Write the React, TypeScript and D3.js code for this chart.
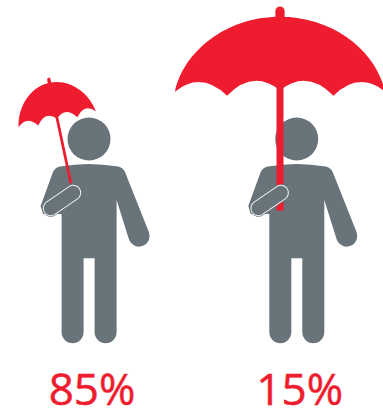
import React from "react";
import * as d3 from "d3";

// Share of people in each group and how each group's umbrella is drawn.
const labels = ["85%", "15%"];
const groups = ["small", "large"];
const umbrellaSpans = [79, 210];
const umbrellaDepths = [37.5, 75];
const umbrellaTilts = [-12, 0];
const umbrellaTops = [[-39.5, 82.7], [-16.7, 16.7]];
const handleLengths = [102.9, 194];
const handleWidths = [2.7, 7];

const RED = "#ee1c2e";
const GREY = "#68737a";
const WIDTH = 383;
const HEIGHT = 411;

const personX = d3.scaleBand<string>().domain(groups).range([89, 89 + 415.4]).paddingInner(0).paddingOuter(0).align(0);

// Canopy outline in a unit system where the full span is 210 wide and the crown sits at 0,0.
function canopyPath(): string {
  const p = d3.path();
  p.moveTo(-105, 75);
  p.bezierCurveTo(-97, 36, -55, 0, 0, 0);
  p.bezierCurveTo(55, 0, 97, 36, 105, 75);
  p.quadraticCurveTo(79, 54, 53.5, 79);
  p.quadraticCurveTo(27, 52, 0, 73.5);
  p.quadraticCurveTo(-27, 52, -53, 79);
  p.quadraticCurveTo(-79, 54, -105, 75);
  p.closePath();
  p.moveTo(-4.6, 2);
  p.lineTo(-4.6, -5.7);
  p.arc(0, -5.7, 4.6, Math.PI, 0);
  p.lineTo(4.6, 2);
  p.closePath();
  return p.toString();
}

// Torso, legs and the free arm, relative to the head's centre line.
function bodyPath(): string {
  const p = d3.path();
  p.moveTo(0, 164);
  p.quadraticCurveTo(14, 164, 29, 166.5);
  p.quadraticCurveTo(34, 167.5, 36, 172);
  p.lineTo(59.8, 232);
  p.arc(50, 236, 10.6, -0.38, 2.76, false);
  p.lineTo(27.6, 200);
  p.lineTo(27.6, 332.3);
  p.arc(16.6, 332.3, 11, 0, Math.PI);
  p.lineTo(5.6, 258.3);
  p.lineTo(-5.4, 258.3);
  p.lineTo(-5.4, 332.3);
  p.arc(-16.4, 332.3, 11, 0, Math.PI);
  p.lineTo(-27.4, 214);
  p.lineTo(-46, 214);
  p.lineTo(-48.4, 206);
  p.lineTo(-36, 172);
  p.quadraticCurveTo(-34, 167.5, -29, 166.5);
  p.quadraticCurveTo(-14, 164, 0, 164);
  p.closePath();
  return p.toString();
}

const canopy = canopyPath();
const body = bodyPath();

export default function App() {
  return (
    <svg
      width={WIDTH}
      height={HEIGHT}
      viewBox={`0 0 ${WIDTH} ${HEIGHT}`}
      style={{ position: "absolute", left: 0, top: 0, display: "block" }}
    >
      <rect width={WIDTH} height={HEIGHT} fill="#fff" />
      {groups.map((g, i) => {
        const cx = personX(g) as number;
        const [tx, ty] = umbrellaTops[i];
        const kx = umbrellaSpans[i] / 210;
        const ky = umbrellaDepths[i] / 75;
        return (
          <g key={g}>
            <g transform={`translate(${cx},0)`}>
              <circle cx={0} cy={139} r={21.5} fill={GREY} />
              <path d={body} fill={GREY} />
            </g>
            <g transform={`translate(${cx + tx},${ty}) rotate(${umbrellaTilts[i]})`}>
              <line x1={0} y1={0} x2={0} y2={handleLengths[i]} stroke={RED} strokeWidth={handleWidths[i]} />
              <path d={canopy} transform={`scale(${kx},${ky})`} fill={RED} />
            </g>
            <g transform={`translate(${cx},0)`}>
              <line x1={-38.4} y1={208.3} x2={-15.7} y2={192.7} stroke={GREY} strokeWidth={17} strokeLinecap="round" />
              <line x1={-38.4} y1={208.3} x2={-15.7} y2={192.7} stroke="#f2f3f4" strokeWidth={15.8} strokeLinecap="round" />
              <line x1={-38.4} y1={208.3} x2={-15.7} y2={192.7} stroke={GREY} strokeWidth={13.8} strokeLinecap="round" />
            </g>
            <text
              x={cx + 3}
              y={405}
              textAnchor="middle"
              fontFamily="'Open Sans', sans-serif"
              fontSize={44}
              fill={RED}
              stroke={RED}
              strokeWidth={0.5}
            >
              {labels[i]}
            </text>
          </g>
        );
      })}
    </svg>
  );
}
